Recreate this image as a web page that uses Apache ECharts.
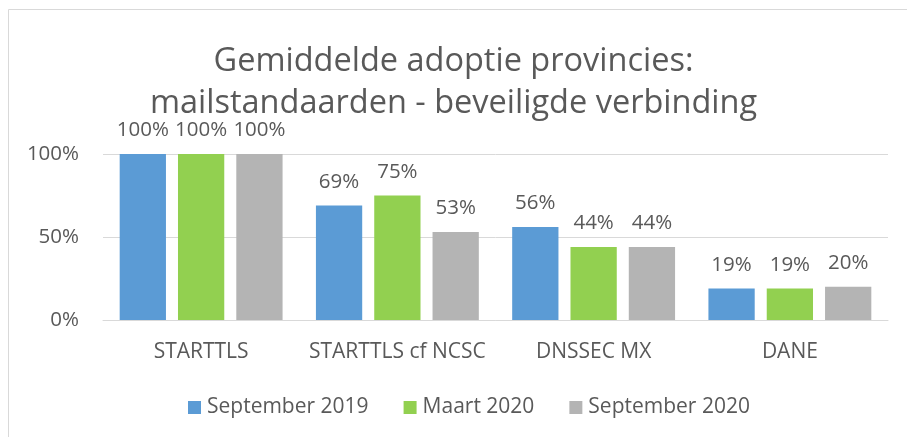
<!DOCTYPE html>
<html><head><meta charset="utf-8">
<script src="https://cdn.jsdelivr.net/npm/echarts@6/dist/echarts.min.js"></script>
<style>html,body{margin:0;padding:0;background:#fff}#c{width:907px;height:437px}</style>
</head><body><div id="c"></div>
<script>
const categories = ['STARTTLS', 'STARTTLS cf NCSC', 'DNSSEC MX', 'DANE'];
const sep2019 = [100, 69, 56, 19];
const mrt2020 = [100, 75, 44, 19];
const sep2020 = [100, 53, 44, 20];
const seriesNames = ['September 2019', 'Maart 2020', 'September 2020'];
const yTicks = [0, 50, 100];
const colors = ['#5b9bd5', '#92d050', '#b4b4b4'];
const FONT = 'Open Sans';
const chart = echarts.init(document.getElementById('c'));
const mk = (name, data, color) => ({
  name, type: 'bar', data, barGap: '26%', barCategoryGap: '17%',
  itemStyle: { color },
  label: { show: true, position: 'top', distance: 13, formatter: p => p.value + '%', color: '#595959', fontSize: 20.5, fontFamily: FONT }
});
chart.setOption({
  animation: false,
  textStyle: { fontFamily: FONT },
  graphic: [{ type: 'rect', shape: { x: 8.5, y: 9.5, width: 905, height: 430 }, style: { fill: 'none', stroke: '#d9d9d9', lineWidth: 1 } }],
  title: {
    text: 'Gemiddelde adoptie provincies:\nmailstandaarden - beveiligde verbinding',
    left: 'center', top: 36, padding: [5, 5, 5, 23],
    textStyle: { fontFamily: FONT, fontWeight: 'normal', fontSize: 32.5, color: '#595959', lineHeight: 42 }
  },
  legend: {
    bottom: 19, left: 188, itemWidth: 13, itemHeight: 13, itemGap: 35, padding: 0,
    icon: 'rect',
    textStyle: { color: '#595959', fontSize: 21, fontFamily: FONT, padding: [0, 0, 0, 1] },
    data: seriesNames
  },
  grid: { left: 103, right: 19, top: 154, bottom: 117 },
  xAxis: {
    type: 'category', data: categories,
    axisLine: { lineStyle: { color: '#d9d9d9' } }, axisTick: { show: false },
    axisLabel: { color: '#595959', fontSize: 21, fontFamily: FONT, margin: 22, interval: 0, hideOverlap: false }
  },
  yAxis: {
    type: 'value', min: yTicks[0], max: yTicks[yTicks.length - 1], interval: 50,
    axisLine: { show: false }, axisTick: { show: false },
    splitLine: { lineStyle: { color: '#d9d9d9' } },
    axisLabel: { color: '#595959', fontSize: 20.5, fontFamily: FONT, margin: 24, formatter: v => v + '%' }
  },
  series: [mk(seriesNames[0], sep2019, colors[0]), mk(seriesNames[1], mrt2020, colors[1]), mk(seriesNames[2], sep2020, colors[2])]
});
</script></body></html>
